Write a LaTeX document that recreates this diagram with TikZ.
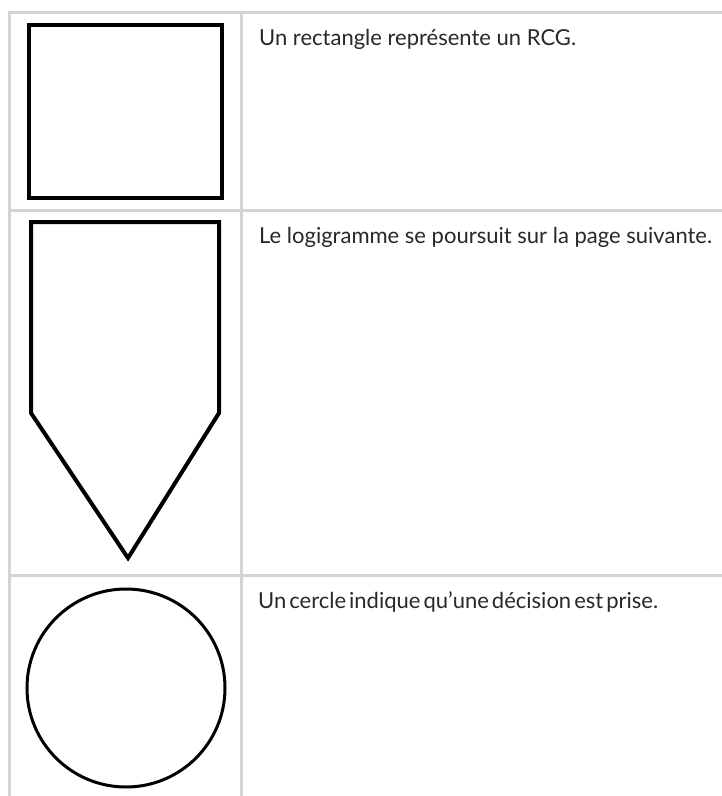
\documentclass[tikz,border=0pt]{standalone}
\usepackage{fontspec}
\setmainfont{Lato}
\definecolor{gridgray}{RGB}{211,211,211}
\definecolor{textgray}{RGB}{40,40,40}
\tikzset{
  gridline/.style={draw=gridgray, line width=3pt},
  symbolline/.style={draw=black, line width=4pt},
  legendtext/.style={anchor=base west, inner sep=0pt, text=textgray, font=\fontsize{22}{26}\selectfont}
}
\begin{document}
\begin{tikzpicture}[x=1pt,y=-1pt]
\useasboundingbox (0,0) rectangle (722,796);

% grille du tableau
\coordinate (topleft) at (9,12);
\coordinate (topright) at (722,12);
\coordinate (botleft) at (9,796);
\coordinate (coltop) at (241,12);
\coordinate (colbot) at (241,796);
\coordinate (rowaleft) at (9,210);
\coordinate (rowaright) at (722,210);
\coordinate (rowbleft) at (9,575);
\coordinate (rowbright) at (722,575);
\draw[gridline] (botleft) -- (topleft) -- (topright);
\draw[gridline] (coltop) -- (colbot);
\draw[gridline] (rowaleft) -- (rowaright);
\draw[gridline] (rowbleft) -- (rowbright);

% symboles
\node[symbolline, rectangle, minimum width=193, minimum height=173, inner sep=0pt] (rcg) at (125.5,111.5) {};
\draw[symbolline, line join=miter] (31,222) -- (219,222) -- (219,413) -- (128,558) -- (31,413) -- cycle;
\node[draw=black, line width=3pt, circle, minimum size=198, inner sep=0pt] (decision) at (126,688) {};

% textes
\node[legendtext] (rcgtext) at (259,45) {Un rectangle représente un RCG.};
\node[legendtext] (suitetext) at (259,243) {Le logigramme se poursuit sur la page suivante.};
\node[legendtext] (decisiontext) at (258,608) {\spaceskip=3pt Un cercle indique qu’une décision est prise.};
\end{tikzpicture}
\end{document}
